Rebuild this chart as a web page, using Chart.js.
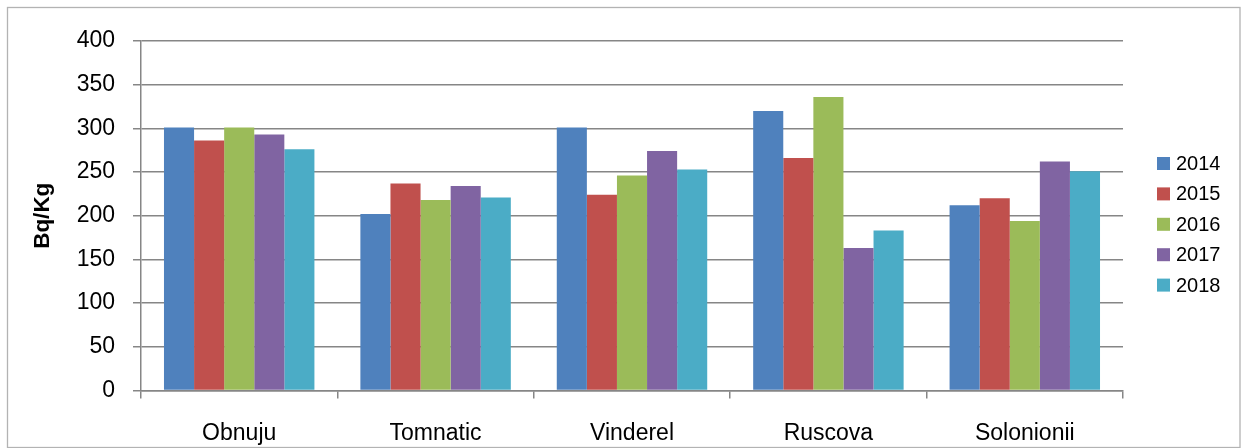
<!DOCTYPE html>
<html>
<head>
<meta charset="utf-8">
<script src="https://cdn.jsdelivr.net/npm/chart.js@4/dist/chart.umd.min.js"></script>
<style>
html,body{margin:0;padding:0;background:#fff;}
#wrap{position:relative;width:1241px;height:448px;}
</style>
</head>
<body>
<div id="wrap"><canvas id="c" width="1241" height="448"></canvas></div>
<script>
const categories = ['Obnuju', 'Tomnatic', 'Vinderel', 'Ruscova', 'Solonionii'];
const seriesNames = ['2014', '2015', '2016', '2017', '2018'];
const values2014 = [301, 202, 301, 320, 212];
const values2015 = [286, 237, 224, 266, 220];
const values2016 = [301, 218, 246, 336, 194];
const values2017 = [293, 234, 274, 163, 262];
const values2018 = [276, 221, 253, 183, 251];
const yTicks = [0, 50, 100, 150, 200, 250, 300, 350, 400];
const yTitle = 'Bq/Kg';
const colors = ['#4F81BD', '#C0504D', '#9BBB59', '#8064A2', '#4BACC6'];

const seriesValues = [values2014, values2015, values2016, values2017, values2018];
const FONT = "'Liberation Sans', Arial, sans-serif";

const frameAndLegend = {
  id: 'frameAndLegend',
  beforeDraw(chart) {
    const ctx = chart.ctx;
    ctx.save();
    ctx.fillStyle = '#ffffff';
    ctx.fillRect(0, 0, chart.width, chart.height);
    ctx.restore();
  },
  afterDraw(chart) {
    const ctx = chart.ctx;
    ctx.save();
    ctx.strokeStyle = '#b3b3b3';
    ctx.lineWidth = 1.3;
    ctx.strokeRect(7.5, 7.5, 1232.5, 440);
    // legend
    ctx.font = '20px ' + FONT;
    ctx.textBaseline = 'middle';
    ctx.textAlign = 'left';
    chart.data.datasets.forEach((ds, i) => {
      const cy = 163.5 + i * 30.4;
      ctx.fillStyle = ds.backgroundColor;
      ctx.fillRect(1157, cy - 6.5, 13, 13);
      ctx.fillStyle = '#000000';
      ctx.fillText(ds.label, 1176, cy + 1);
    });
    ctx.restore();
  }
};

new Chart(document.getElementById('c'), {
  type: 'bar',
  data: {
    labels: categories,
    datasets: seriesNames.map((name, i) => ({
      label: name,
      data: seriesValues[i],
      backgroundColor: colors[i],
      borderWidth: 0,
      categoryPercentage: 0.766,
      barPercentage: 1.0
    }))
  },
  options: {
    responsive: false,
    animation: false,
    devicePixelRatio: 1,
    layout: { padding: { top: 41, right: 118, bottom: 0, left: 14 } },
    plugins: {
      legend: { display: false },
      tooltip: { enabled: false }
    },
    scales: {
      x: {
        afterFit: (scale) => { scale.height = 57.5; },
        grid: {
          offset: true,
          drawOnChartArea: false,
          drawTicks: true,
          tickLength: 8,
          color: '#868686',
          lineWidth: 1.5
        },
        border: { color: '#868686', width: 1.5 },
        ticks: {
          color: '#000000',
          font: { family: FONT, size: 23 },
          padding: 21,
          maxRotation: 0
        }
      },
      y: {
        min: 0,
        max: 400,
        afterBuildTicks: (scale) => { scale.ticks = yTicks.map(v => ({ value: v })); },
        afterFit: (scale) => { scale.width = 127; },
        grid: {
          color: '#868686',
          lineWidth: 1.5,
          drawTicks: true,
          tickLength: 8
        },
        border: { color: '#868686', width: 1.5 },
        ticks: {
          color: '#000000',
          font: { family: FONT, size: 23 },
          padding: 18
        },
        title: {
          display: true,
          text: yTitle,
          color: '#000000',
          font: { family: FONT, size: 22.5, weight: 'bold' },
          padding: { top: 15, bottom: 4 }
        }
      }
    }
  },
  plugins: [frameAndLegend]
});
</script>
</body>
</html>
